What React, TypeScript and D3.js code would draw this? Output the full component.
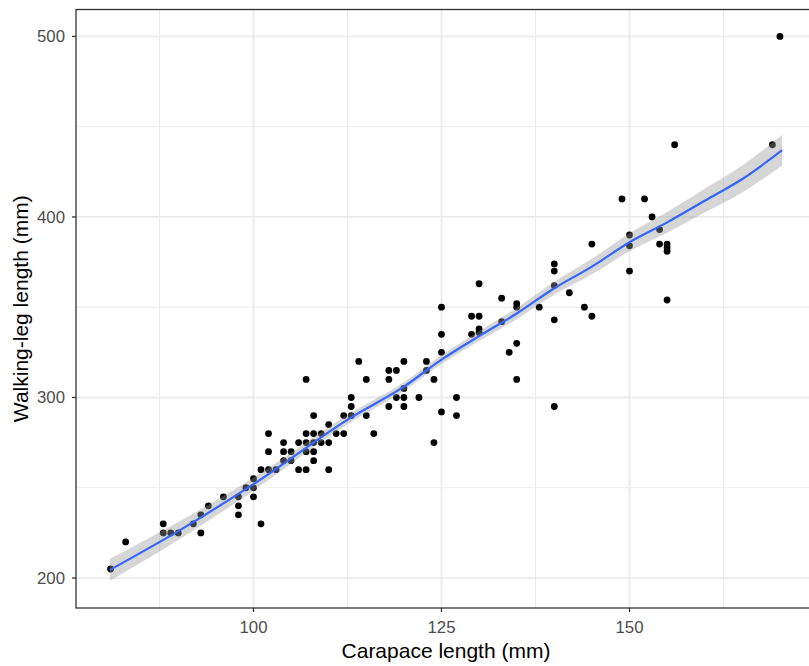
import React from "react";
import * as d3 from "d3";

const carapace = [
  81, 83, 88, 88, 89, 90, 92, 93, 93, 94, 96, 98, 98, 98, 99, 100, 100, 100, 101, 101,
  102, 103, 102, 102, 104, 104, 104, 105, 105, 106, 106, 107, 107, 107, 107, 107, 108, 108, 108, 108,
  108, 109, 109, 110, 110, 110, 111, 112, 112, 113, 113, 113, 114, 115, 115, 116, 118, 119, 118, 118,
  120, 120, 119, 120, 120, 122, 123, 123, 124, 124, 125, 125, 125, 125, 127, 127, 129, 129, 130, 130,
  130, 130, 133, 133, 134, 135, 135, 135, 135, 138, 140, 140, 140, 140, 140, 142, 144, 145, 145, 149,
  150, 150, 150, 152, 153, 154, 154, 155, 155, 155, 155, 156, 169, 170,
];
const walkingLeg = [
  205, 220, 230, 225, 225, 225, 230, 225, 235, 240, 245, 245, 240, 235, 250, 250, 245, 255, 230, 260,
  260, 260, 270, 280, 275, 270, 265, 270, 265, 275, 260, 260, 280, 275, 270, 310, 290, 280, 275, 270,
  265, 280, 275, 285, 275, 260, 280, 290, 280, 300, 295, 290, 320, 310, 290, 280, 315, 315, 310, 295,
  320, 305, 300, 300, 295, 300, 320, 315, 310, 275, 350, 335, 325, 292, 300, 290, 345, 335, 363, 345,
  338, 336, 355, 342, 325, 352, 350, 330, 310, 350, 374, 370, 362, 343, 295, 358, 350, 345, 385, 410,
  390, 384, 370, 410, 400, 393, 385, 385, 383, 381, 354, 440, 440, 500,
];

// loess fit
const smoothX = [80.9, 90, 100, 113, 120, 125, 130, 135, 140, 145, 150, 155, 160, 165, 170.3];
const smoothY = [204.5, 226, 252, 289, 306, 321, 334, 346.5, 360.5, 372.5, 386, 397, 409, 421, 437];
const smoothSe = [6, 5, 3.6, 2.5, 2.4, 2.5, 2.7, 3.1, 3.6, 4.3, 5, 5.8, 6.6, 7.5, 8.5];

const xMajor = [100, 125, 150];
const xMinor = [87.5, 112.5, 137.5, 162.5];
const yMajor = [200, 300, 400, 500];
const yMinor = [250, 350, 450];

const xTitle = "Carapace length (mm)";
const yTitle = "Walking-leg length (mm)";

export default function App() {
  const W = 809;
  const H = 666;
  const left = 76;
  const right = 816;
  const top = 9.5;
  const bottom = 608;
  const x = d3.scaleLinear().domain([76.4, 174.8]).range([left, right]);
  const y = d3.scaleLinear().domain([183.4, 514.9]).range([bottom, top]);

  const idx = smoothX.map((_, i) => i);
  const area = d3
    .area<number>()
    .x((i) => x(smoothX[i]))
    .y0((i) => y(smoothY[i] - smoothSe[i]))
    .y1((i) => y(smoothY[i] + smoothSe[i]))
    .curve(d3.curveMonotoneX);
  const line = d3
    .line<number>()
    .x((i) => x(smoothX[i]))
    .y((i) => y(smoothY[i]))
    .curve(d3.curveMonotoneX);

  const font = "'Liberation Sans', Arial, sans-serif";
  const grid = "#EBEBEB";

  return (
    <svg
      width={W}
      height={H}
      style={{ position: "absolute", left: 0, top: 0, background: "#fff" }}
      fontFamily={font}
    >
      <rect x={0} y={0} width={W} height={H} fill="#fff" />
      <defs>
        <clipPath id="panel">
          <rect x={left} y={top} width={right - left} height={bottom - top} />
        </clipPath>
      </defs>
      <g clipPath="url(#panel)">
        {xMinor.map((v) => (
          <line key={"xm" + v} x1={x(v)} x2={x(v)} y1={top} y2={bottom} stroke={grid} strokeWidth={1} />
        ))}
        {yMinor.map((v) => (
          <line key={"ym" + v} x1={left} x2={right} y1={y(v)} y2={y(v)} stroke={grid} strokeWidth={1} />
        ))}
        {xMajor.map((v) => (
          <line key={"xM" + v} x1={x(v)} x2={x(v)} y1={top} y2={bottom} stroke={grid} strokeWidth={1.8} />
        ))}
        {yMajor.map((v) => (
          <line key={"yM" + v} x1={left} x2={right} y1={y(v)} y2={y(v)} stroke={grid} strokeWidth={1.8} />
        ))}
        {carapace.map((c, i) => (
          <circle key={"p" + i} cx={x(c)} cy={y(walkingLeg[i])} r={3.4} fill="#000" />
        ))}
        <path d={area(idx) || ""} fill="#999999" fillOpacity={0.4} />
        <path d={line(idx) || ""} fill="none" stroke="#3366FF" strokeWidth={2.2} />
      </g>
      <rect
        x={left}
        y={top}
        width={right - left}
        height={bottom - top}
        fill="none"
        stroke="#333333"
        strokeWidth={1.3}
      />
      {xMajor.map((v) => (
        <g key={"xt" + v}>
          <line x1={x(v)} x2={x(v)} y1={bottom} y2={bottom + 4} stroke="#333333" strokeWidth={1.3} />
          <text x={x(v)} y={633} textAnchor="middle" fontSize={16.8} fill="#4D4D4D">
            {v}
          </text>
        </g>
      ))}
      {yMajor.map((v) => (
        <g key={"yt" + v}>
          <line x1={left - 4} x2={left} y1={y(v)} y2={y(v)} stroke="#333333" strokeWidth={1.3} />
          <text x={65} y={y(v)} dy="0.35em" textAnchor="end" fontSize={16.8} fill="#4D4D4D">
            {v}
          </text>
        </g>
      ))}
      <text x={(left + right) / 2} y={658} textAnchor="middle" fontSize={21} fill="#000">
        {xTitle}
      </text>
      <text
        transform={`translate(28, ${(top + bottom) / 2}) rotate(-90)`}
        textAnchor="middle"
        fontSize={21}
        fill="#000"
      >
        {yTitle}
      </text>
    </svg>
  );
}
